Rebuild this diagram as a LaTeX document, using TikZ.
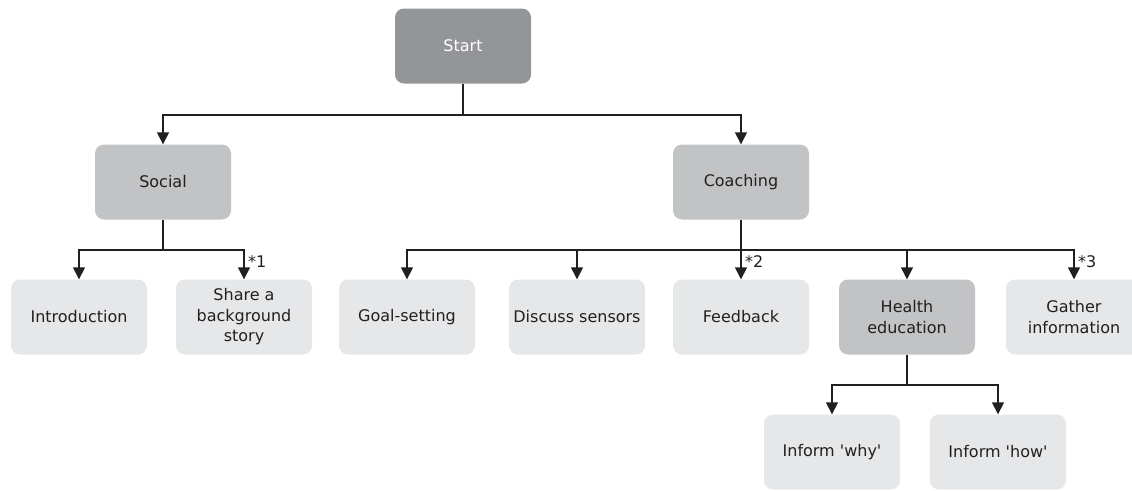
\documentclass[tikz,border=0pt]{standalone}
\usepackage{fontspec}
\setmainfont{DejaVu Sans}
\usetikzlibrary{arrows.meta}
\definecolor{startgray}{HTML}{939598}
\definecolor{midgray}{HTML}{C2C3C5}
\definecolor{leafgray}{HTML}{E6E7E8}
\definecolor{ink}{HTML}{231F20}
\tikzset{
  x=1pt, y=1pt,
  box/.style={rounded corners=9pt, minimum width=136pt, minimum height=75pt,
    inner sep=2pt, align=center, text=ink, font=\fontsize{16}{20.5}\selectfont},
  topbox/.style={box, fill=startgray, text=white},
  midbox/.style={box, fill=midgray},
  leafbox/.style={box, fill=leafgray},
  link/.style={draw=ink, line width=1.5pt},
  arr/.style={link, -{Triangle[width=12pt,length=12pt]}},
  note/.style={anchor=west, inner sep=0pt, text=ink, font=\fontsize{16}{18}\selectfont}
}
\begin{document}
\begin{tikzpicture}
\useasboundingbox (0,0) rectangle (1132,-490);
% boxes
\node[topbox]  (start)    at (463,-46)  {Start};
\node[midbox]  (social)   at (163,-182) {Social};
\node[midbox]  (coaching) at (741,-182) {Coaching};
\node[leafbox] (intro)    at (79,-317)  {Introduction};
\node[leafbox] (story)    at (244,-317) {Share a\\background\\story};
\node[leafbox] (goal)     at (407,-317) {Goal-setting};
\node[leafbox] (sensors)  at (577,-317) {Discuss sensors};
\node[leafbox] (feedback) at (741,-317) {Feedback};
\node[midbox]  (health)   at (907,-317) {Health\\education};
\node[leafbox] (gather)   at (1074,-317) {Gather\\information};
\node[leafbox] (why)      at (832,-452) {Inform \textquotesingle why\textquotesingle};
\node[leafbox] (how)      at (998,-452) {Inform \textquotesingle how\textquotesingle};
% branch points
\coordinate (b0) at (463,-115);
\coordinate (b1) at (163,-250);
\coordinate (b2) at (741,-250);
\coordinate (b3) at (907,-385);
% connectors
\draw[link] (start.south) -- (b0);
\draw[arr] (b0) -| (social.north);
\draw[arr] (b0) -| (coaching.north);
\draw[link] (social.south) -- (b1);
\draw[arr] (b1) -| (intro.north);
\draw[arr] (b1) -| (story.north);
\draw[link] (coaching.south) -- (b2);
\draw[arr] (b2) -| (goal.north);
\draw[arr] (b2) -| (sensors.north);
\draw[arr] (b2) -- (feedback.north);
\draw[arr] (b2) -| (health.north);
\draw[arr] (b2) -| (gather.north);
\draw[link] (health.south) -- (b3);
\draw[arr] (b3) -| (why.north);
\draw[arr] (b3) -| (how.north);
% footnote marks
\node[note] (n1) at (248,-262) {*1};
\node[note] (n2) at (745,-262) {*2};
\node[note] (n3) at (1078,-262) {*3};
\end{tikzpicture}
\end{document}
